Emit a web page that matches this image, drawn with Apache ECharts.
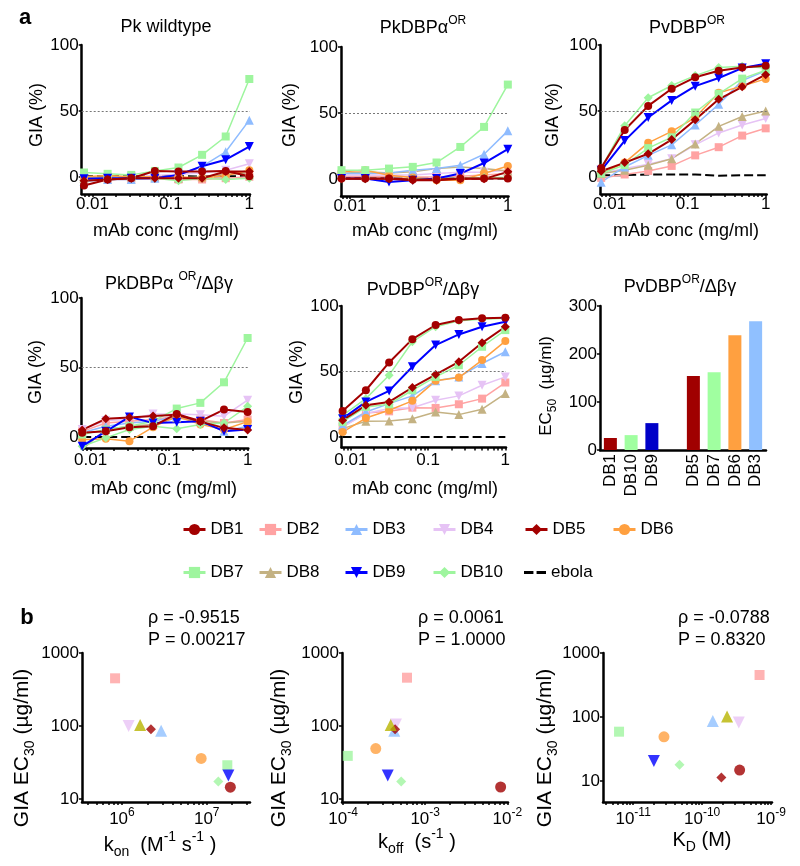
<!DOCTYPE html>
<html><head><meta charset="utf-8">
<script src="https://cdn.jsdelivr.net/npm/echarts@6/dist/echarts.min.js"></script>
<style>html,body{margin:0;padding:0;background:#fff}#c{width:800px;height:866px}</style>
</head><body><div id="c"></div>
<script>
const FONT = '"Liberation Sans", Arial, sans-serif';

// ---------------- DATA ----------------
const conc = [0.0078125, 0.015625, 0.03125, 0.0625, 0.125, 0.25, 0.5, 1];
const seriesNames = ['DB1','DB2','DB3','DB4','DB5','DB6','DB7','DB8','DB9','DB10','ebola'];

// GIA (%) per panel, rows in seriesNames order
const giaPkWildtype = [
  [-6.5, -2, -1, 4.5, 4, 4, 4.5, 0.5],
  [-2, -2, -2, -1, -2, -2, -1, 0],
  [-3.5, -2, -2, -1, 1.5, 8, 19, 43],
  [-1, -1, 0, 1, 2, 3, 5, 10],
  [-3, -2, -1, -1, -1, -1, 4, 4],
  [0, 1, 0, 0, 0, -1, 1, 5],
  [3.3, 2.3, 1.5, 4.5, 7.1, 16.7, 30.6, 74.2],
  [-1, 0, 0, 0, -1, 0, 2, 3],
  [-1.5, -1, -1, -1, 1.5, 8, 13, 23],
  [-3, -1, -1, -1, -3, -1, -2, -1],
  [0.4, 0.6, 0.5, 0.7, 0.5, 0.3, 0.5, 0.6]
];
const giaPkDBPaOR = [
  [0.3, 0.3, 0.3, -0.5, -0.5, 0.3, 0.3, 0.3],
  [2, 2, 2, 1.5, 1.5, 2, 3, 4],
  [4, 4, 4.5, 6.6, 7.8, 10.4, 18.7, 36.4],
  [3, 3, 3, 3, 4, 5, 5, 6.6],
  [0, 0, 0, -1, -1, 0, 0, 5.3],
  [5.3, 6.6, 2.8, 1, -1, -1, 4, 9.8],
  [6.6, 6.6, 7.8, 9.1, 12.4, 24.2, 39.4, 71.5],
  [4, 5.3, 4.5, 5.3, 7.8, 9, 7.8, 6],
  [0.3, 0.3, -2.3, -1, 0.3, 4, 12, 22.5],
  [0, 0, 0, 0, 0, 0.5, 1, 1],
  [0.2, 0.3, 0.2, 0.2, 0.3, 0.2, 0.2, 0.3]
];
const giaPvDBPOR = [
  [6.8, 35.5, 53.8, 66.8, 75.5, 80.5, 83, 84.3],
  [-0.8, 1.8, 4.5, 8.3, 16.3, 22.5, 31.3, 36.8],
  [-4, 7.5, 16.3, 24.3, 39.3, 55, 73, 80.5],
  [2.5, 6.3, 9.5, 13.8, 24.3, 33.3, 39.3, 44.3],
  [4.3, 10.8, 17.5, 28.3, 43.3, 58.8, 68.3, 77.5],
  [2.5, 10.8, 25.8, 34.5, 45, 63.8, 68.8, 74.3],
  [2.5, 9, 21.8, 30, 48.8, 63, 74.5, 80.8],
  [2.5, 5, 8.8, 13.8, 25, 38.3, 45.8, 50],
  [5, 27.5, 45, 58, 68.8, 75, 82.5, 85.8],
  [6.8, 38.8, 60, 69.3, 76.8, 83, 83.8, 82.5],
  [1.3, 1.3, 1.8, 1.8, 1.8, 0.8, 1.3, 1.3]
];
const giaPkDBPaORdbg = [
  [3, 4, 7, 7.7, 16.5, 11.3, 19.7, 18],
  [4, 10, 11.3, 12.5, 14.9, 12.5, 10, 12.5],
  [3, 7.7, 10, 11.3, 14.9, 11.3, 4.1, 7.7],
  [5.3, 11.8, 12.5, 16.5, 16.5, 16, 14.9, 26.4],
  [5, 13, 14, 15, 16, 11, 6.5, 5],
  [-2, -1.4, -3.1, 7, 14.9, 9, 5.3, 11],
  [1.7, 5.3, 7.7, 11.3, 20.4, 24.5, 39.3, 71.2],
  [-9, 5.3, 7.7, 9, 13.7, 11.3, 10, 11.3],
  [-6.7, 4, 14.4, 10, 10.6, 11.3, 4.1, 5.3],
  [-6.7, -0.7, 5.3, 7.7, 5.8, 9, 10, 22],
  [0, 0, 0, 0, 0, 0, 0, 0]
];
const giaPvDBPORdbg = [
  [19.9, 35.7, 56.9, 74.7, 85.5, 89.3, 90.6, 91],
  [7.7, 18.4, 19.6, 22.4, 22.2, 25, 29.3, 41.6],
  [8.9, 19.1, 25.5, 31.4, 42.9, 45.9, 56.1, 65.1],
  [7.7, 17.9, 21.7, 22.4, 28.1, 31.4, 39.5, 45.9],
  [12.8, 24.2, 26.8, 37.8, 47.7, 57.4, 71.9, 84.2],
  [3.8, 14.5, 20.4, 27.6, 42.9, 45.4, 58.7, 73.2],
  [11.5, 23, 25, 35.7, 45.9, 54.8, 68.9, 81.6],
  [6.4, 12, 12.2, 14, 19.1, 17.1, 21.2, 33.2],
  [14, 26.8, 35.2, 53.6, 70.2, 78.3, 84.2, 88],
  [16.6, 29.3, 47.2, 72.7, 84.2, 88.8, 89.8, 90.6],
  [0, 0, 0, 0, 0, 0, 0, 0]
];

// EC50 bars
const ec50Cats = ['DB1', 'DB10', 'DB9', '', 'DB5', 'DB7', 'DB6', 'DB3'];
const ec50Vals = [25, 31, 56, null, 154, 162, 239, 268];

// Kinetics vs EC30 (order DB1..DB10)
const kon      = [1.9e7, 8.3e5, 2.9e6, 1.2e6, 2.2e6, 8.6e6, 1.75e7, 1.64e6, 1.8e7, 1.37e7];
const ec30Kon  = [14.5, 450, 86, 100, 90, 36, 29, 103, 21, 17.4];
const koff     = [8.3e-3, 6.0e-4, 4.2e-4, 4.4e-4, 4.3e-4, 2.5e-4, 1.14e-4, 3.8e-4, 3.5e-4, 5.1e-4];
const ec30Koff = [14.6, 459, 86, 105, 90, 49, 39, 103, 21, 17.4];
const kd       = [3.5e-10, 6.8e-10, 1.43e-10, 3.4e-10, 1.9e-10, 2.8e-11, 6.25e-12, 2.3e-10, 2.0e-11, 4.7e-11];
const ec30Kd   = [14.8, 453, 87, 82, 11.3, 49, 59, 102, 20.5, 18];
const rhoTexts = ['-0.9515', '0.0061', '-0.0788'];
const pTexts   = ['0.00217', '1.0000', '0.8320'];

// Tick values
const concTicks  = [0.008,0.009,0.01,0.02,0.03,0.04,0.05,0.06,0.07,0.08,0.09,0.1,0.2,0.3,0.4,0.5,0.6,0.7,0.8,0.9,1];
const concLabels = [0.01, 0.1, 1];
const giaTicks   = [0, 50, 100];
const konTicks   = [4e5,5e5,6e5,7e5,8e5,9e5,1e6,2e6,3e6,4e6,5e6,6e6,7e6,8e6,9e6,1e7,2e7,3e7];
const konLabels  = [1e6, 1e7];
const koffTicks  = [1e-4,2e-4,3e-4,4e-4,5e-4,6e-4,7e-4,8e-4,9e-4,1e-3,2e-3,3e-3,4e-3,5e-3,6e-3,7e-3,8e-3,9e-3,1e-2];
const koffLabels = [1e-4, 1e-3, 1e-2];
const kdTicks    = [4e-12,5e-12,6e-12,7e-12,8e-12,9e-12,1e-11,2e-11,3e-11,4e-11,5e-11,6e-11,7e-11,8e-11,9e-11,1e-10,2e-10,3e-10,4e-10,5e-10,6e-10,7e-10,8e-10,9e-10,1e-9];
const kdLabels   = [1e-11, 1e-10, 1e-9];
const ec30Ticks  = [10, 100, 1000];

// ---------------- STYLES ----------------
const sty = {
  DB1:  {color:'#a30000', symbol:'circle',   size:8, rotate:0,   width:2},
  DB2:  {color:'#ffa3a3', symbol:'rect',     size:8, rotate:0,   width:1.5},
  DB3:  {color:'#8fbcff', symbol:'triangle', size:9, rotate:0,   width:1.5},
  DB4:  {color:'#e6c3f5', symbol:'triangle', size:9, rotate:180, width:1.5},
  DB5:  {color:'#a30000', symbol:'diamond',  size:9, rotate:0,   width:2},
  DB6:  {color:'#ffa040', symbol:'circle',   size:8, rotate:0,   width:1.5},
  DB7:  {color:'#9ef59e', symbol:'rect',     size:8, rotate:0,   width:1.5},
  DB8:  {color:'#c4b283', symbol:'triangle', size:9, rotate:0,   width:1.5},
  DB9:  {color:'#0000ff', symbol:'triangle', size:9, rotate:180, width:2},
  DB10: {color:'#9ef59e', symbol:'diamond',  size:9, rotate:0,   width:1.5},
  ebola:{color:'#000000', symbol:'none',     size:0, rotate:0,   width:2, type:[9,4]}
};
const scatterColor = {DB1:'#a00000',DB2:'#ffa0a0',DB3:'#90c0ff',DB4:'#e8c3f5',DB5:'#a00000',DB6:'#ffa040',DB7:'#a0f5a0',DB8:'#b8b400',DB9:'#0000ff',DB10:'#a0f5a0'};
const scatterSize = {circle:11, rect:10, triangle:12, diamond:10};
const barColor = {DB1:'#a00000',DB10:'#a0ffa0',DB9:'#0000c8',DB5:'#a00000',DB7:'#a0ffa0',DB6:'#ffa040',DB3:'#90c0ff'};
const drawOrder = ['ebola','DB2','DB4','DB8','DB3','DB6','DB7','DB10','DB9','DB5','DB1'];

const linePanels = [giaPkWildtype, giaPkDBPaOR, giaPvDBPOR, giaPkDBPaORdbg, giaPvDBPORdbg];
const grids = [
  {left:81.7, top:45,  width:168.3, height:149},
  {left:341,  top:47,  width:167.5, height:149},
  {left:600.7,top:45,  width:166,   height:149},
  {left:81.7, top:298, width:166.6, height:150},
  {left:341.7,top:306, width:164.3, height:141.5},
  {left:600,  top:306, width:166,   height:144},
  {left:82,   top:653, width:168,   height:149},
  {left:342,  top:653, width:166,   height:149},
  {left:603,  top:653, width:169,   height:149}
];
const lineXRange = [[0.0073,1.02],[0.0077,1.02],[0.0077,1.03],[0.0077,1.02],[0.0076,1.02]];
const lineYMin = [-13, -13, -13, -8, -8];
const lineXLabelMargin = [2, 2, 2, 4, 4];

const axisLine = {show:true, onZero:false, lineStyle:{color:'#000', width:2.5}};
const tickStyle = {color:'#000', width:1.5};
const lbl = {color:'#000', fontSize:17, fontFamily:FONT};
const pow10 = v => '10{s|' + Math.round(Math.log10(v)) + '}';

const xAxes = [], yAxes = [], series = [];

linePanels.forEach((panel, p) => {
  xAxes.push({type:'log', gridIndex:p, min:lineXRange[p][0], max:lineXRange[p][1], axisLine,
    axisTick:{customValues:concTicks, length:3, lineStyle:tickStyle},
    axisLabel:Object.assign({customValues:concLabels, margin:lineXLabelMargin[p], formatter:v=>String(v)}, lbl),
    splitLine:{show:false}});
  yAxes.push({type:'value', gridIndex:p, min:lineYMin[p], max:100, axisLine,
    axisTick:{customValues:giaTicks, length:3, lineStyle:tickStyle},
    axisLabel:Object.assign({customValues:giaTicks, margin:3}, lbl),
    splitLine:{show:false}});
  drawOrder.forEach(name => {
    const k = seriesNames.indexOf(name);
    const s = sty[name];
    const ser = {type:'line', name, xAxisIndex:p, yAxisIndex:p,
      data: conc.map((c, j) => [c, panel[k][j]]),
      symbol:s.symbol, symbolSize:s.size, symbolRotate:s.rotate, showSymbol:true,
      lineStyle:{color:s.color, width:s.width, type:s.type || 'solid'},
      itemStyle:{color:s.color}, emphasis:{disabled:true}, animation:false};
    if (name === 'ebola') {
      ser.markLine = {silent:true, symbol:'none', animation:false,
        data:[{yAxis:50}], label:{show:false},
        lineStyle:{type:[2,2], color:'#777', width:1}};
    }
    series.push(ser);
  });
});

// Bar panel (index 5)
xAxes.push({type:'category', gridIndex:5, data:ec50Cats, axisLine,
  axisTick:{alignWithLabel:true, length:3, lineStyle:tickStyle},
  axisLabel:Object.assign({rotate:90, interval:0, margin:4}, lbl)});
yAxes.push({type:'value', gridIndex:5, min:0, max:300, interval:100, axisLine,
  axisTick:{show:true, length:3, lineStyle:tickStyle},
  axisLabel:Object.assign({margin:3}, lbl), splitLine:{show:false}});
series.push({type:'bar', name:'EC50', xAxisIndex:5, yAxisIndex:5, barWidth:13, animation:false,
  data: ec50Vals.map((v, i) => ({value:v, itemStyle:{color: barColor[ec50Cats[i]] || '#000'}}))});

// Scatter panels (6,7,8)
const scat = [
  {x:kon,  y:ec30Kon,  xr:[3.38e5, 3.24e7], yr:[9.1, 1000], ticks:konTicks,  labels:konLabels},
  {x:koff, y:ec30Koff, xr:[9.7e-5, 1.02e-2], yr:[9.1, 1000], ticks:koffTicks, labels:koffLabels},
  {x:kd,   y:ec30Kd,   xr:[3.66e-12, 1.03e-9], yr:[4.7, 1000], ticks:kdTicks, labels:kdLabels}
];
scat.forEach((sc, q) => {
  const gi = 6 + q;
  xAxes.push({type:'log', gridIndex:gi, min:sc.xr[0], max:sc.xr[1], axisLine,
    axisTick:{customValues:sc.ticks, length:3, lineStyle:tickStyle},
    axisLabel:Object.assign({customValues:sc.labels, margin:5, lineHeight:24, formatter:pow10,
      rich:{s:{fontSize:12, fontFamily:FONT, color:'#000', verticalAlign:'top', lineHeight:12}}}, lbl),
    splitLine:{show:false}});
  yAxes.push({type:'log', gridIndex:gi, min:sc.yr[0], max:sc.yr[1], axisLine,
    axisTick:{customValues:ec30Ticks, length:3, lineStyle:tickStyle},
    axisLabel:Object.assign({customValues:ec30Ticks, margin:3, formatter:v=>String(Math.round(v))}, lbl),
    splitLine:{show:false}});
  series.push({type:'scatter', name:'scatter'+q, xAxisIndex:gi, yAxisIndex:gi, animation:false,
    emphasis:{disabled:true},
    data: seriesNames.slice(0, 10).map((n, i) => ({
      value:[sc.x[i], sc.y[i]],
      symbol: sty[n].symbol, symbolRotate: sty[n].rotate,
      symbolSize: scatterSize[sty[n].symbol],
      itemStyle:{color: scatterColor[n]}
    }))});
});

// Legends (one component per item for exact placement)
const legendLeft = [182, 258, 344, 432, 524, 612];
const legendRowY = [528, 571];
const legends = seriesNames.map((n, i) => {
  const row = i < 6 ? 0 : 1, col = i < 6 ? i : i - 6;
  const isEbola = n === 'ebola';
  const ih = 14;
  return {
    data: isEbola ? [{name:n, icon:'path://M0,0h9v3h-9z M12,0h9v3h-9z'}] : [n],
    left: legendLeft[col], top: legendRowY[row] - ih / 2,
    itemWidth: 22, itemHeight: ih, itemGap: 0, padding: 0, selectedMode: false,
    lineStyle: {width: 3},
    textStyle: {fontSize:17, fontFamily:FONT, color:'#000'}
  };
});

// Texts
const richTxt = (fs) => ({
  s:{fontSize:Math.round(fs*0.68), fontFamily:FONT, fill:'#000', verticalAlign:'top', lineHeight:Math.round(fs*0.68)},
  b:{fontSize:Math.round(fs*0.68), fontFamily:FONT, fill:'#000', verticalAlign:'bottom', lineHeight:Math.round(fs*0.68)}
});
function txt(x, y, text, fs, opt) {
  opt = opt || {};
  return {type:'text', x, y, rotation: opt.rot || 0, silent:true, z:100,
    style:{text, font:(opt.bold ? 'bold ' : '') + fs + 'px ' + FONT, fill:'#000',
      lineHeight: Math.round(fs * 1.45),
      textAlign: opt.align || 'center', textVerticalAlign:'middle',
      rich: richTxt(fs)}};
}
const R = Math.PI / 2;
const graphics = [
  txt(25, 18, 'a', 22, {bold:true}),
  txt(27, 618, 'b', 22, {bold:true}),
  txt(166, 27, 'Pk wildtype', 18),
  txt(423, 28, 'PkDBPα{s|OR}', 18),
  txt(687, 28, 'PvDBP{s|OR}', 18),
  txt(169, 284, 'PkDBPα {s|OR}/Δβγ', 18),
  txt(423, 290, 'PvDBP{s|OR}/Δβγ', 18),
  txt(680, 287, 'PvDBP{s|OR}/Δβγ', 18),
  txt(37, 115, 'GIA (%)', 18, {rot:R}),
  txt(290, 115, 'GIA (%)', 18, {rot:R}),
  txt(553, 115, 'GIA (%)', 18, {rot:R}),
  txt(36, 372, 'GIA (%)', 18, {rot:R}),
  txt(297, 372, 'GIA (%)', 18, {rot:R}),
  txt(546, 386, 'EC{b|50}  (µg/ml)', 17, {rot:R}),
  txt(166, 231, 'mAb conc (mg/ml)', 18),
  txt(425, 231, 'mAb conc (mg/ml)', 18),
  txt(686, 231, 'mAb conc (mg/ml)', 18),
  txt(164, 489, 'mAb conc (mg/ml)', 18),
  txt(425, 489, 'mAb conc (mg/ml)', 18),
  txt(22, 748, 'GIA EC{b|30} (µg/ml)', 21, {rot:R}),
  txt(279, 748, 'GIA EC{b|30} (µg/ml)', 21, {rot:R}),
  txt(545, 748, 'GIA EC{b|30} (µg/ml)', 21, {rot:R}),
  txt(160, 845, 'k{b|on}  (M{s|-1} s{s|-1} )', 20),
  txt(417, 842, 'k{b|off}  (s{s|-1} )', 20),
  txt(702, 840, 'K{b|D} (M)', 20)
];
const statX = [148, 418, 678];
statX.forEach((x, q) => {
  graphics.push(txt(x, 618, 'ρ = ' + rhoTexts[q], 18, {align:'left'}));
  graphics.push(txt(x, 640, 'P = ' + pTexts[q], 18, {align:'left'}));
});

const chart = echarts.init(document.getElementById('c'), null, {renderer:'canvas', width:800, height:866});
chart.setOption({
  backgroundColor:'#fff',
  animation:false,
  grid: grids,
  xAxis: xAxes,
  yAxis: yAxes,
  legend: legends,
  series,
  graphic: graphics
});
</script>
</body></html>
